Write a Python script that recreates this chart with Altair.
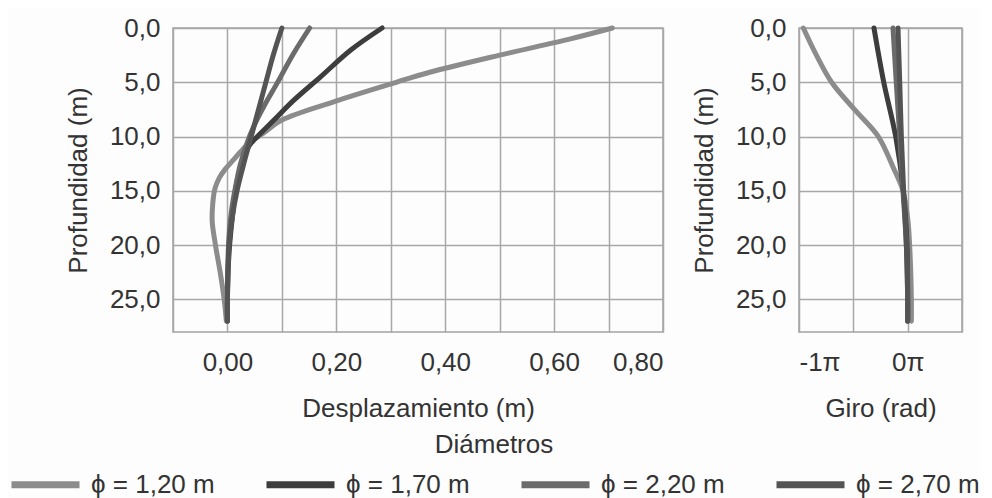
import altair as alt
import pandas as pd

series = ["ϕ = 1,20 m", "ϕ = 1,70 m", "ϕ = 2,20 m", "ϕ = 2,70 m"]
colors = ["#8c8c8c", "#3d3d3d", "#6b6b6b", "#545454"]

# Desplazamiento (m) vs profundidad (m)
d120_depth = [0, 1, 2.5, 4.1, 5, 6.8, 8.5, 9.7, 10.5, 11.4, 12.2, 13.0, 13.8, 14.8, 16.2, 17.8, 20, 22.6, 25, 27]
d120_disp = [0.707, 0.63, 0.50, 0.37, 0.31, 0.195, 0.099, 0.066, 0.042, 0.024, 0.01, -0.004, -0.015, -0.023, -0.027, -0.028, -0.022, -0.013, -0.006, -0.002]
d170_depth = [0, 2.05, 4.5, 6.65, 8.5, 9.7, 10.9, 12.8, 14.9, 17.4, 20, 22.6, 25, 27]
d170_disp = [0.284, 0.226, 0.171, 0.122, 0.085, 0.061, 0.039, 0.024, 0.015, 0.009, 0.004, 0.001, 0.0, 0.0]
d220_depth = [0, 2.3, 5.1, 7.3, 9.1, 10.6, 12.5, 14.6, 17, 20, 25, 27]
d220_disp = [0.151, 0.122, 0.091, 0.066, 0.048, 0.036, 0.024, 0.015, 0.007, 0.002, 0.0, 0.0]
d270_depth = [0, 2.35, 5.1, 7.9, 10.3, 12.5, 14.9, 17.4, 20, 25, 27]
d270_disp = [0.1, 0.085, 0.07, 0.055, 0.042, 0.03, 0.018, 0.009, 0.003, 0.0, 0.0]

# Giro (en unidades de pi rad) vs profundidad (m)
g120_depth = [0, 2.5, 5, 7.5, 10, 12.8, 15, 17.5, 20, 25, 27]
g120_rot = [-0.96, -0.84, -0.70, -0.49, -0.27, -0.135, -0.043, 0.0, 0.018, 0.034, 0.034]
g_depth = [0, 5, 10, 15, 20, 25, 27]
g170_rot = [-0.31, -0.22, -0.11, -0.04, -0.006, 0.0, 0.0]
g220_rot = [-0.135, -0.105, -0.073, -0.043, -0.012, 0.0, 0.0]
g270_rot = [-0.089, -0.073, -0.058, -0.037, -0.012, 0.0, 0.0]


def long(pairs):
    rows = []
    for name, depth, vals in pairs:
        for i, (d, v) in enumerate(zip(depth, vals)):
            rows.append({"serie": name, "depth": d, "val": v, "i": i})
    return pd.DataFrame(rows)


df_disp = long([
    (series[0], d120_depth, d120_disp),
    (series[1], d170_depth, d170_disp),
    (series[2], d220_depth, d220_disp),
    (series[3], d270_depth, d270_disp),
])
df_rot = long([
    (series[0], g120_depth, g120_rot),
    (series[1], g_depth, g170_rot),
    (series[2], g_depth, g220_rot),
    (series[3], g_depth, g270_rot),
])

FONT = "Liberation Sans"
FS = 26
color = alt.Color(
    "serie:N",
    scale=alt.Scale(domain=series, range=colors),
    legend=alt.Legend(
        title="Diámetros",
        orient="none",
        direction="horizontal",
        legendX=-165,
        legendY=404,
        symbolType="stroke",
        symbolSize=4624,
        symbolStrokeWidth=7,
        labelOffset=8,
        columnPadding=37,
        titleAnchor="middle",
        titleFontSize=FS,
        titleFontWeight="normal",
        titleFont=FONT,
        titleColor="#333333",
        titlePadding=-11,
        labelFontSize=FS,
        labelFont=FONT,
        labelColor="#333333",
        labelLimit=300,
    ),
)

yenc = alt.Y(
    "depth:Q",
    scale=alt.Scale(domain=[0, 28], reverse=True, nice=False, zero=False),
    axis=alt.Axis(
        title="Profundidad (m)",
        values=[0, 5, 10, 15, 20, 25],
        labelExpr="replace(format(datum.value, '.1f'), '.', ',')",
        labelPadding=13,
        titlePadding=18,
    ),
)

line_kw = dict(strokeWidth=5, strokeCap="round", strokeJoin="round", interpolate="catmull-rom")

left = alt.Chart(df_disp).mark_line(**line_kw).encode(
    x=alt.X(
        "val:Q",
        scale=alt.Scale(domain=[-0.1, 0.8], nice=False, zero=False),
        axis=alt.Axis(
            title="Desplazamiento (m)",
            values=[-0.1, 0, 0.1, 0.2, 0.3, 0.4, 0.5, 0.6, 0.7, 0.8],
            labelExpr="(datum.value > -0.05 && abs(round(datum.value * 10)) % 2 == 0) ? replace(format(datum.value, '.2f'), '.', ',') : ''",
            labelPadding=17,
            titlePadding=20,
        ),
    ),
    y=yenc,
    color=color,
    order="i:Q",
).properties(width=490, height=304)

right = alt.Chart(df_rot).mark_line(**line_kw).encode(
    x=alt.X(
        "val:Q",
        scale=alt.Scale(domain=[-1, 0.5], nice=False, zero=False),
        axis=alt.Axis(
            title="Giro (rad)",
            values=[-1, -0.5, 0, 0.5],
            labelExpr="datum.value == -1 ? '-1π' : (datum.value == 0 ? '0π' : '')",
            labelPadding=17,
            titlePadding=20,
        ),
    ),
    y=yenc,
    color=color,
    order="i:Q",
).properties(width=163, height=304)

chart = alt.hconcat(left, right, spacing=136, bounds="flush").properties(
    padding={"left": 0, "top": 6, "right": 0, "bottom": 0},
    background="#fdfdfd",
).configure_view(
    stroke="#a3a3a3", strokeWidth=1.5
).configure_axis(
    domain=False,
    ticks=False,
    grid=True,
    gridColor="#a8a8a8",
    gridWidth=1.5,
    gridOpacity=1,
    labelFont=FONT,
    labelFontSize=FS,
    labelColor="#333333",
    titleFont=FONT,
    titleFontSize=FS,
    titleFontWeight="normal",
    titleColor="#333333",
)

chart.save("out.html", embed_options={"renderer": "svg", "actions": False})
